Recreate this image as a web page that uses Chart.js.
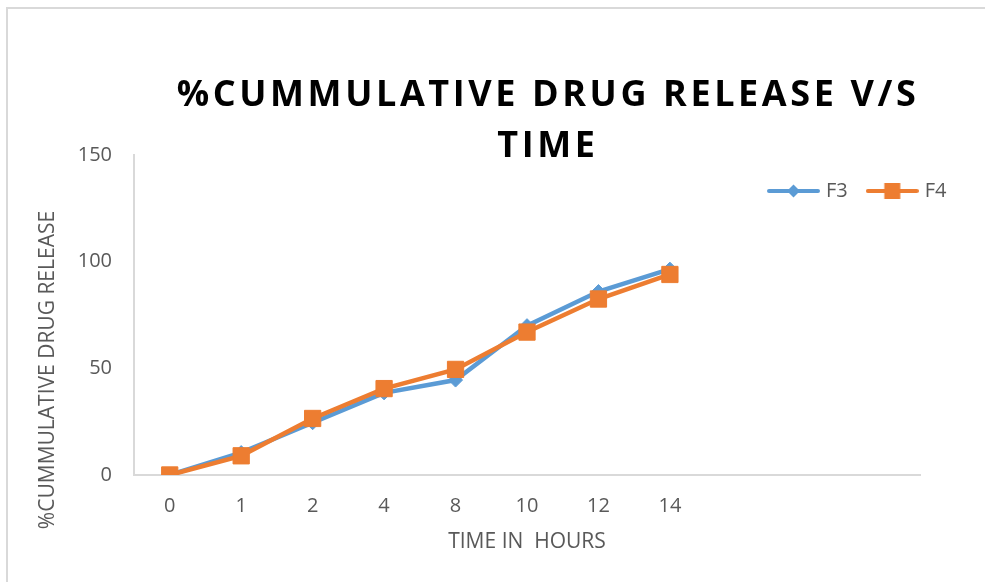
<!DOCTYPE html>
<html>
<head>
<meta charset="utf-8">
<script src="https://cdn.jsdelivr.net/npm/chart.js@4/dist/chart.umd.min.js"></script>
<style>
  html, body { margin: 0; padding: 0; background: #ffffff; }
  #wrap { position: relative; width: 985px; height: 582px; overflow: hidden; }
</style>
</head>
<body>
<div id="wrap"><canvas id="c" width="985" height="582"></canvas></div>
<script>
// Sampling times (hours) and empty slots that keep the axis running past 14 h
const hours = ['0', '1', '2', '4', '8', '10', '12', '14'];
const emptySlots = ['', '', ''];

// % cumulative drug release for the two formulations
const f3Release = [0, 10.5, 24.5, 38.5, 44.5, 70, 86, 96.5];
const f4Release = [0, 9, 26.5, 40.5, 49.5, 67, 82.5, 94];

const yTicks = [0, 50, 100, 150];

const titleLines = ['%CUMMULATIVE DRUG RELEASE V/S', 'TIME'];
const yTitle = '%CUMMULATIVE DRUG RELEASE';
const xTitle = 'TIME IN  HOURS';

const BLUE = '#5B9BD5';
const ORANGE = '#ED7D31';
const TEXT = '#595959';
const AXIS = '#D9D9D9';
const FONT = "'Open Sans', 'DejaVu Sans', sans-serif";

// Small legend swatches: a line segment with the series marker in the middle
function swatch(color, shape) {
  const cv = document.createElement('canvas');
  cv.width = 53; cv.height = 18;
  const g = cv.getContext('2d');
  g.strokeStyle = color; g.lineWidth = 4; g.lineCap = 'round';
  g.beginPath(); g.moveTo(2, 9); g.lineTo(51, 9); g.stroke();
  g.fillStyle = color;
  g.beginPath();
  if (shape === 'diamond') {
    g.moveTo(26.5, 2.5); g.lineTo(33, 9); g.lineTo(26.5, 15.5); g.lineTo(20, 9);
  } else {
    g.rect(18.5, 1, 16, 16);
  }
  g.closePath(); g.fill();
  return cv;
}
const swatches = { F3: swatch(BLUE, 'diamond'), F4: swatch(ORANGE, 'square') };

// Outer frame of the chart
const framePlugin = {
  id: 'frame',
  beforeDraw(chart) {
    const ctx = chart.ctx;
    ctx.save();
    ctx.strokeStyle = AXIS;
    ctx.lineWidth = 2;
    ctx.strokeRect(7, 8, 1100, 1100);
    ctx.restore();
  }
};

// Bold, letter-spaced two-line title and the rotated value-axis title
const textPlugin = {
  id: 'chartTexts',
  afterDraw(chart) {
    const ctx = chart.ctx;
    ctx.save();
    ctx.font = "bold 36px " + FONT;
    ctx.fillStyle = '#000000';
    ctx.textAlign = 'center';
    ctx.textBaseline = 'alphabetic';
    if ('letterSpacing' in ctx) ctx.letterSpacing = '3.6px';
    ctx.fillText(titleLines[0], 548, 106);
    ctx.fillText(titleLines[1], 548, 157);
    ctx.restore();

    ctx.save();
    ctx.font = "21px " + FONT;
    ctx.fillStyle = TEXT;
    ctx.textAlign = 'center';
    ctx.textBaseline = 'middle';
    ctx.translate(48, 370);
    ctx.rotate(-Math.PI / 2);
    ctx.fillText(yTitle, 0, 0);
    ctx.restore();
  }
};

// Legend sits in the upper right, over the plot area
const LEGEND_PAD = 22;
const legendPlacer = {
  id: 'legendPlacer',
  afterLayout(chart) {
    const lg = chart.legend;
    if (!lg) return;
    const h = lg.height;
    lg.left = 771 - LEGEND_PAD;
    lg.right = lg.left + lg.width;
    lg.top = 191 - 10 - LEGEND_PAD;
    lg.bottom = lg.top + h;
  }
};

new Chart(document.getElementById('c'), {
  type: 'line',
  data: {
    labels: hours.concat(emptySlots),
    datasets: [
      {
        label: 'F3',
        data: f3Release,
        order: 1,
        borderColor: BLUE,
        backgroundColor: BLUE,
        borderWidth: 4.5,
        tension: 0,
        pointStyle: 'rectRot',
        pointRadius: 7,
        pointBorderWidth: 1,
        pointBackgroundColor: BLUE,
        pointBorderColor: BLUE
      },
      {
        label: 'F4',
        data: f4Release,
        order: 0,
        borderColor: ORANGE,
        backgroundColor: ORANGE,
        borderWidth: 4.5,
        tension: 0,
        pointStyle: 'rect',
        pointRadius: 11.5,
        pointBorderWidth: 1,
        pointBackgroundColor: ORANGE,
        pointBorderColor: ORANGE
      }
    ]
  },
  options: {
    responsive: false,
    animation: false,
    events: [],
    layout: { padding: { top: 103, left: 0, right: 65, bottom: 0 } },
    plugins: {
      title: { display: false },
      tooltip: { enabled: false },
      legend: {
        display: true,
        position: 'top',
        align: 'start',
        labels: {
          usePointStyle: true,
          pointStyleWidth: 45,
          padding: LEGEND_PAD,
          color: TEXT,
          font: { family: FONT, size: 20 },
          sort: (a, b) => a.datasetIndex - b.datasetIndex,
          generateLabels(chart) {
            const items = Chart.defaults.plugins.legend.labels.generateLabels(chart);
            items.forEach(it => { it.pointStyle = swatches[it.text]; it.rotation = 0; });
            return items;
          }
        }
      }
    },
    scales: {
      x: {
        type: 'category',
        offset: true,
        grid: { display: false, drawTicks: false },
        border: { display: true, color: AXIS, width: 2 },
        ticks: {
          color: TEXT,
          font: { family: FONT, size: 20 },
          padding: 19,
          maxRotation: 0,
          autoSkip: false
        },
        title: {
          display: true,
          text: xTitle,
          color: TEXT,
          font: { family: FONT, size: 21 },
          padding: { top: 0, bottom: 27 }
        },
        afterFit(scale) { scale.height = 107; }
      },
      y: {
        min: 0,
        max: 150,
        afterBuildTicks(scale) { scale.ticks = yTicks.map(v => ({ value: v })); },
        grid: { display: false, drawTicks: false },
        border: { display: true, color: AXIS, width: 2 },
        ticks: {
          color: TEXT,
          font: { family: FONT, size: 20 },
          padding: 22
        },
        title: { display: false },
        afterFit(scale) { scale.width = 134; }
      }
    }
  },
  plugins: [framePlugin, textPlugin, legendPlacer]
});
</script>
</body>
</html>
